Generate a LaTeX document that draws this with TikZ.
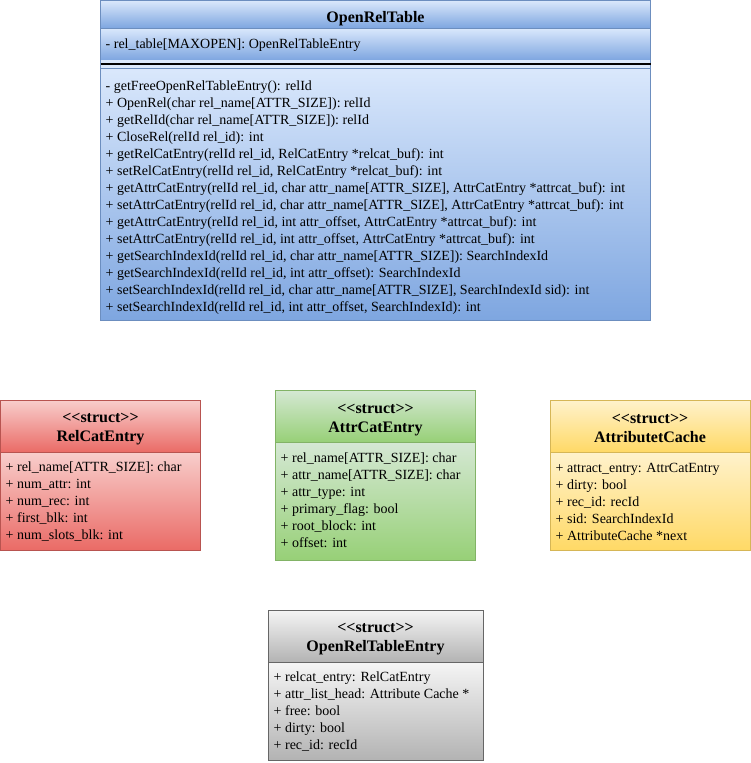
\documentclass[tikz,border=0pt]{standalone}
\usepackage{fontspec}
\setmainfont{Liberation Serif}
\newcommand{\stereo}{<\kern0pt<struct>\kern0pt>}
\definecolor{bluetop}{HTML}{DAE8FC}\definecolor{bluebot}{HTML}{7EA6E0}\definecolor{blueline}{HTML}{6C8EBF}
\definecolor{redtop}{HTML}{F8CECC}\definecolor{redbot}{HTML}{EA6B66}\definecolor{redline}{HTML}{B85450}
\definecolor{greentop}{HTML}{D5E8D4}\definecolor{greenbot}{HTML}{97D077}\definecolor{greenline}{HTML}{82B366}
\definecolor{yellowtop}{HTML}{FFF2CC}\definecolor{yellowbot}{HTML}{FFD966}\definecolor{yellowline}{HTML}{D6B656}
\definecolor{graytop}{HTML}{F5F5F5}\definecolor{graybot}{HTML}{B3B3B3}\definecolor{grayline}{HTML}{666666}
\begin{document}
\begin{tikzpicture}[x=1pt, y=-1pt,
  member/.style={anchor=base west, inner sep=0pt, align=left, font=\fontsize{14}{17}\selectfont},
  title/.style={anchor=base, inner sep=0pt, font=\fontsize{16}{19}\selectfont\bfseries},
  bluepart/.style={top color=bluetop, bottom color=bluebot, draw=blueline},
  redpart/.style={top color=redtop, bottom color=redbot, draw=redline},
  greenpart/.style={top color=greentop, bottom color=greenbot, draw=greenline},
  yellowpart/.style={top color=yellowtop, bottom color=yellowbot, draw=yellowline},
  graypart/.style={top color=graytop, bottom color=graybot, draw=grayline}]
\useasboundingbox (0,0) rectangle (751,763);

% OpenRelTable (members placed at baseline of last line)
\shade[bluepart] (100.5,0.5) rectangle (650.5,28);
\shade[bluepart] (100.5,28) rectangle (650.5,60);
\fill[bluetop] (100.5,60) rectangle (650.5,68);
\shade[bluepart] (100.5,68) rectangle (650.5,320);
\draw[blueline] (100.5,0.5) rectangle (650.5,320);
\draw[line width=1.2pt] (100.5,64) -- (650.5,64); % separator
\node[title] (ortname) at (375.5,22) {OpenRelTable};
\node[member] (ortattr) at (105.5,48) {- rel\_table[MAXOPEN]: OpenRelTableEntry};
\node[member] (ortops) at (105.5,311) {- getFreeOpenRelTableEntry(): relId\\
+ OpenRel(char rel\_name[ATTR\_SIZE]): relId\\
+ getRelId(char rel\_name[ATTR\_SIZE]): relId\\
+ CloseRel(relId rel\_id): int\\
+ getRelCatEntry(relId rel\_id, RelCatEntry *relcat\_buf): int\\
+ setRelCatEntry(relId rel\_id, RelCatEntry *relcat\_buf): int\\
+ getAttrCatEntry(relId rel\_id, char attr\_name[ATTR\_SIZE], AttrCatEntry *attrcat\_buf): int\\
+ setAttrCatEntry(relId rel\_id, char attr\_name[ATTR\_SIZE], AttrCatEntry *attrcat\_buf): int\\
+ getAttrCatEntry(relId rel\_id, int attr\_offset, AttrCatEntry *attrcat\_buf): int\\
+ setAttrCatEntry(relId rel\_id, int attr\_offset, AttrCatEntry *attrcat\_buf): int\\
+ getSearchIndexId(relId rel\_id, char attr\_name[ATTR\_SIZE]): SearchIndexId\\
+ getSearchIndexId(relId rel\_id, int attr\_offset): SearchIndexId\\
+ setSearchIndexId(relId rel\_id, char attr\_name[ATTR\_SIZE], SearchIndexId sid): int\\
+ setSearchIndexId(relId rel\_id, int attr\_offset, SearchIndexId): int};

% RelCatEntry
\shade[redpart] (0.5,400) rectangle (200.5,452);
\shade[redpart] (0.5,452) rectangle (200.5,550);
\node[title] (relstereo) at (100.5,422) {\stereo};
\node[title] (relname) at (100.5,441) {RelCatEntry};
\node[member] (relattr) at (5.5,539.5) {+ rel\_name[ATTR\_SIZE]: char\\
+ num\_attr: int\\
+ num\_rec: int\\
+ first\_blk: int\\
+ num\_slots\_blk: int};

% AttrCatEntry
\shade[greenpart] (275.5,390) rectangle (475.5,442);
\shade[greenpart] (275.5,442) rectangle (475.5,560);
\node[title] (attrstereo) at (375.5,413) {\stereo};
\node[title] (attrname) at (375.5,432) {AttrCatEntry};
\node[member] (attrattr) at (280.5,547) {+ rel\_name[ATTR\_SIZE]: char\\
+ attr\_name[ATTR\_SIZE]: char\\
+ attr\_type: int\\
+ primary\_flag: bool\\
+ root\_block: int\\
+ offset: int};

% AttributetCache
\shade[yellowpart] (550.5,400) rectangle (750,452);
\shade[yellowpart] (550.5,452) rectangle (750,550);
\node[title] (cachestereo) at (650,423) {\stereo};
\node[title] (cachename) at (650,442) {AttributetCache};
\node[member] (cacheattr) at (555.5,540) {+ attract\_entry: AttrCatEntry\\
+ dirty: bool\\
+ rec\_id: recId\\
+ sid: SearchIndexId\\
+ AttributeCache *next};

% OpenRelTableEntry
\shade[graypart] (268.5,610) rectangle (483,662);
\shade[graypart] (268.5,662) rectangle (483,760);
\node[title] (entrystereo) at (375.5,632) {\stereo};
\node[title] (entryname) at (375.5,651) {OpenRelTableEntry};
\node[member] (entryattr) at (273.5,749) {+ relcat\_entry: RelCatEntry\\
+ attr\_list\_head: Attribute Cache *\\
+ free: bool\\
+ dirty: bool\\
+ rec\_id: recId};
\end{tikzpicture}
\end{document}
